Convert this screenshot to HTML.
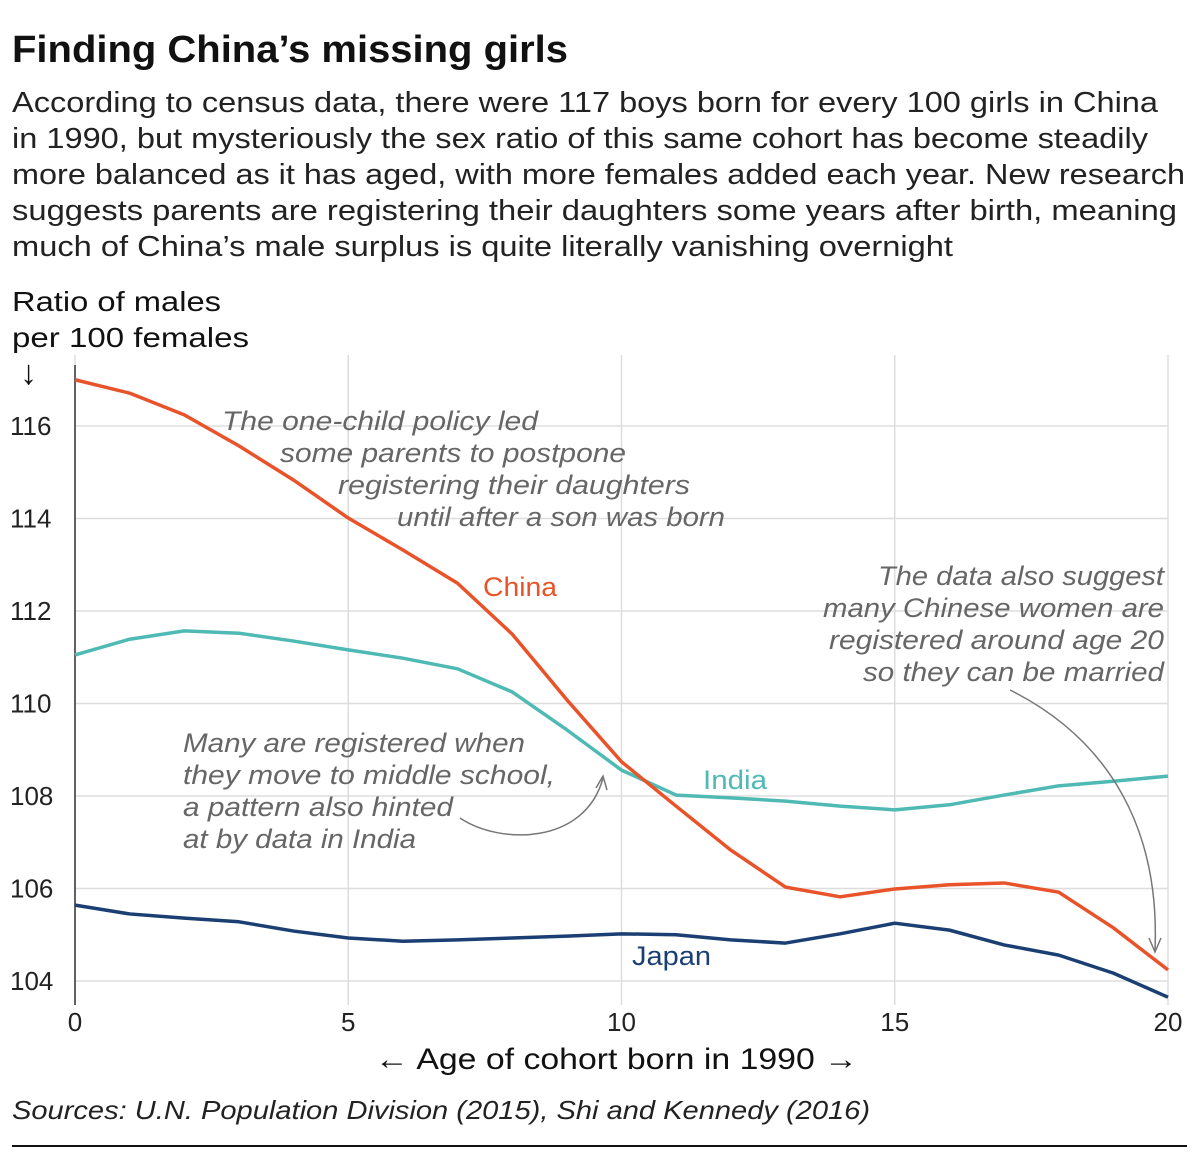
<!DOCTYPE html>
<html><head><meta charset="utf-8"><style>
body{margin:0;background:#fff;width:1200px;height:1165px;overflow:hidden;font-family:"Liberation Sans",sans-serif;color:#111}
svg text{font-family:"Liberation Sans",sans-serif}
</style></head><body>
<svg width="1200" height="1165">
<text x="12" y="62" font-size="38" font-weight="bold" fill="#111" textLength="556" lengthAdjust="spacingAndGlyphs">Finding China’s missing girls</text>
<g font-size="29" fill="#222">
<text x="12" y="112" textLength="1146" lengthAdjust="spacingAndGlyphs">According to census data, there were 117 boys born for every 100 girls in China</text>
<text x="12" y="148" textLength="1136" lengthAdjust="spacingAndGlyphs">in 1990, but mysteriously the sex ratio of this same cohort has become steadily</text>
<text x="12" y="184" textLength="1173" lengthAdjust="spacingAndGlyphs">more balanced as it has aged, with more females added each year. New research</text>
<text x="12" y="220" textLength="1165" lengthAdjust="spacingAndGlyphs">suggests parents are registering their daughters some years after birth, meaning</text>
<text x="12" y="256" textLength="941" lengthAdjust="spacingAndGlyphs">much of China’s male surplus is quite literally vanishing overnight</text>
</g>
<g font-size="28" fill="#111">
<text x="12" y="311" textLength="209" lengthAdjust="spacingAndGlyphs">Ratio of males</text>
<text x="12" y="347" textLength="237" lengthAdjust="spacingAndGlyphs">per 100 females</text>
<text x="20" y="384" font-size="34">↓</text>
</g>
<g id="grid"></g>
<g id="series"></g>
<g font-size="27" font-style="italic" fill="#666">
<text x="222" y="430" textLength="316" lengthAdjust="spacingAndGlyphs">The one-child policy led</text>
<text x="280" y="462" textLength="346" lengthAdjust="spacingAndGlyphs">some parents to postpone</text>
<text x="338" y="494" textLength="352" lengthAdjust="spacingAndGlyphs">registering their daughters</text>
<text x="397" y="526" textLength="328" lengthAdjust="spacingAndGlyphs">until after a son was born</text>
</g>
<g font-size="27" font-style="italic" fill="#666">
<text x="878" y="585" textLength="286" lengthAdjust="spacingAndGlyphs">The data also suggest</text>
<text x="823" y="617" textLength="341" lengthAdjust="spacingAndGlyphs">many Chinese women are</text>
<text x="829" y="649" textLength="335" lengthAdjust="spacingAndGlyphs">registered around age 20</text>
<text x="863" y="681" textLength="301" lengthAdjust="spacingAndGlyphs">so they can be married</text>
</g>
<g font-size="27" font-style="italic" fill="#666">
<text x="183" y="752" textLength="342" lengthAdjust="spacingAndGlyphs">Many are registered when</text>
<text x="183" y="784" textLength="372" lengthAdjust="spacingAndGlyphs">they move to middle school,</text>
<text x="183" y="816" textLength="270" lengthAdjust="spacingAndGlyphs">a pattern also hinted</text>
<text x="183" y="848" textLength="233" lengthAdjust="spacingAndGlyphs">at by data in India</text>
</g>
<path d="M460,818 C500,845 585,845 603,778" fill="none" stroke="#777" stroke-width="1.5"/>
<path d="M596,788 L603,776 L607,790" fill="none" stroke="#777" stroke-width="1.5"/>
<path d="M1010,690 C1110,740 1160,830 1155,950" fill="none" stroke="#777" stroke-width="1.5"/>
<path d="M1149,938 L1155,952 L1161,938" fill="none" stroke="#777" stroke-width="1.5"/>
<text x="483" y="596" font-size="27" fill="#e8532a" textLength="74" lengthAdjust="spacingAndGlyphs">China</text>
<text x="703" y="789" font-size="27" fill="#4fbab3" textLength="64" lengthAdjust="spacingAndGlyphs">India</text>
<text x="632" y="965" font-size="27" fill="#1b3f73" textLength="79" lengthAdjust="spacingAndGlyphs">Japan</text>
<text x="375" y="1069" font-size="30" fill="#111" textLength="483" lengthAdjust="spacingAndGlyphs">← Age of cohort born in 1990 →</text>
<text x="12" y="1119" font-size="26" font-style="italic" fill="#222" textLength="858" lengthAdjust="spacingAndGlyphs">Sources: U.N. Population Division (2015), Shi and Kennedy (2016)</text>
<rect x="12" y="1145" width="1175" height="2" fill="#111"/>
</svg>
<script>
const ages=[0,1,2,3,4,5,6,7,8,9,10,11,12,13,14,15,16,17,18,19,20];
const china=[117.0,116.71,116.24,115.57,114.83,114.01,113.32,112.6,111.5,110.08,108.74,107.78,106.83,106.03,105.82,105.99,106.08,106.12,105.92,105.15,104.24];
const india=[111.05,111.39,111.57,111.52,111.35,111.16,110.98,110.75,110.25,109.43,108.56,108.02,107.96,107.89,107.78,107.7,107.81,108.02,108.22,108.32,108.43];
const japan=[105.64,105.45,105.36,105.28,105.08,104.93,104.86,104.89,104.93,104.97,105.02,105.0,104.89,104.82,105.02,105.25,105.1,104.78,104.56,104.17,103.65];
const yTicks=[104,106,108,110,112,114,116];
const xTicks=[0,5,10,15,20];
const NS="http://www.w3.org/2000/svg";
const X=v=>75+v*(1168-75)/20;
const Y=v=>981-(v-104)*(981-426)/12;
const grid=document.getElementById('grid');
function mk(tag,attrs,parent){const e=document.createElementNS(NS,tag);for(const k in attrs)e.setAttribute(k,attrs[k]);parent.appendChild(e);return e;}
yTicks.forEach(t=>{
  const l=mk('line',{x1:75,x2:1168,y1:Y(t),y2:Y(t),stroke:'#ddd','stroke-width':1.5},grid);
  
  
  const tx=mk('text',{x:10,y:Y(t)+9,'font-size':26,fill:'#222'},grid);tx.textContent=t;
  
  
});
xTicks.forEach(t=>{
  const l=mk('line',{x1:X(t),x2:X(t),y1:355,y2:1005,stroke:'#ddd','stroke-width':1.5},grid);
  
  
  const tx=mk('text',{x:X(t),y:1031,'font-size':26,fill:'#222','text-anchor':'middle'},grid);tx.textContent=t;
  
  
});
const ax=mk('line',{x1:75,x2:75,y1:365,y2:1005,stroke:'#333','stroke-width':1.5},grid);


const sg=document.getElementById('series');
[[japan,'#1b3f73','japan-line'],[india,'#4fbab3','india-line'],[china,'#e8532a','china-line']].forEach(([d,c,n])=>{
  const p=mk('polyline',{points:d.map((v,i)=>X(ages[i])+','+Y(v)).join(' '),fill:'none',stroke:c,'stroke-width':3.5,'stroke-linejoin':'round'},sg);
  
  
});
</script>
</body></html>
